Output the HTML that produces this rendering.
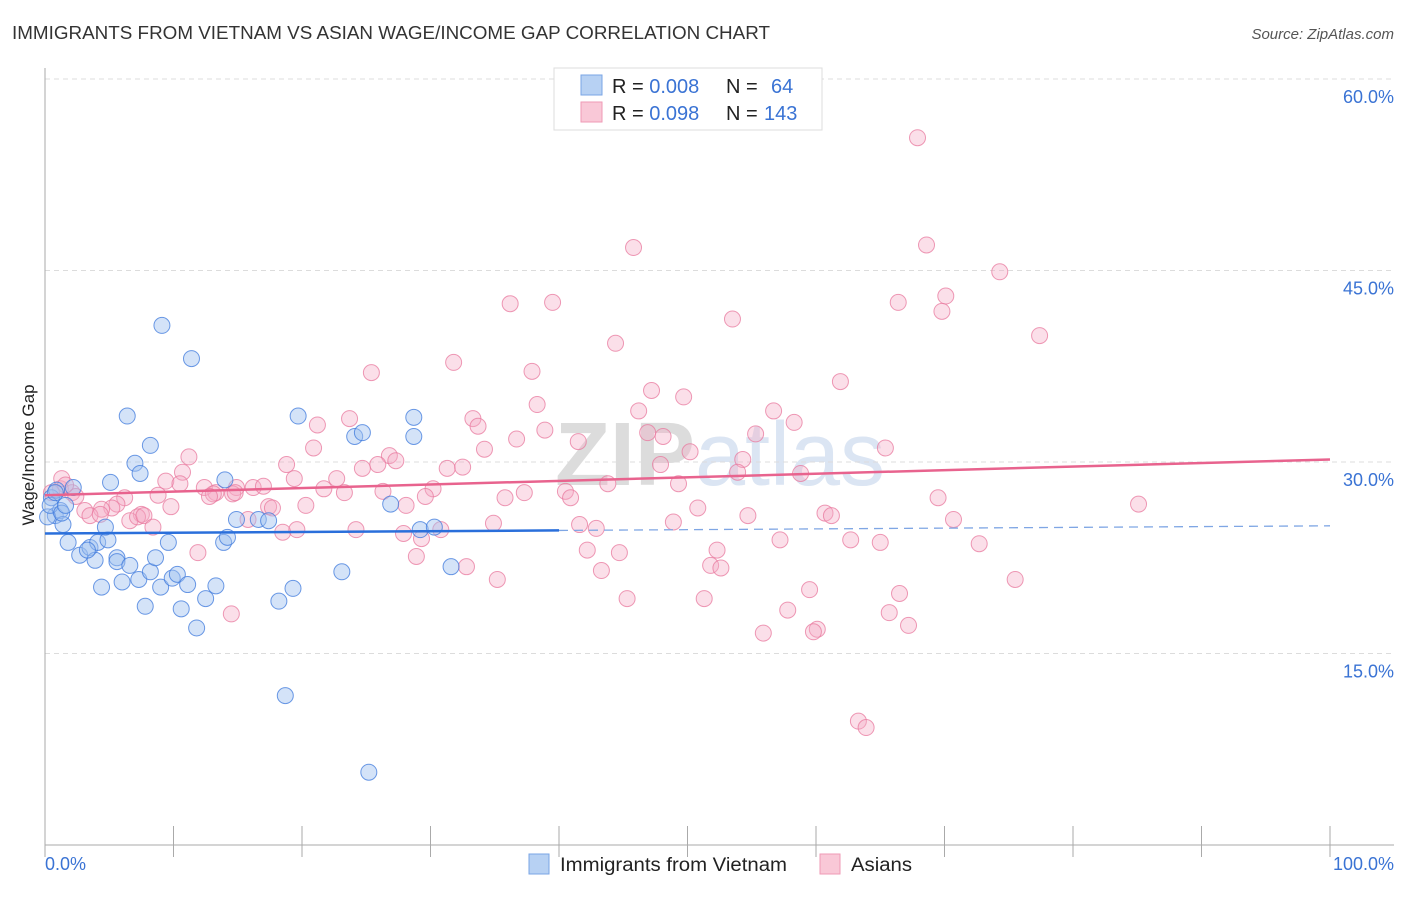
<!DOCTYPE html>
<html><head><meta charset="utf-8"><style>
body{margin:0;background:#fff;font-family:"Liberation Sans",sans-serif;}
svg text{font-family:"Liberation Sans",sans-serif;}
</style></head><body>
<svg id="chart" width="1406" height="892" xmlns="http://www.w3.org/2000/svg">
<text x="12" y="39" font-size="18" fill="#333" textLength="758" lengthAdjust="spacingAndGlyphs">IMMIGRANTS FROM VIETNAM VS ASIAN WAGE/INCOME GAP CORRELATION CHART</text>
<text x="1394" y="39" font-size="15" fill="#555" font-style="italic" text-anchor="end">Source: ZipAtlas.com</text>
<text x="720" y="485" font-size="90" fill="#e6e9ee" text-anchor="middle" font-family="Liberation Serif,serif"><tspan font-weight="bold" fill="#dcdcdc">ZIP</tspan><tspan fill="#dbe5f3">atlas</tspan></text>
<g id="grid"></g>
<g id="axes"></g>
<g id="pts"></g>
<g id="lines"></g>
<text transform="translate(34,455) rotate(-90)" font-size="17" fill="#222" text-anchor="middle">Wage/Income Gap</text>
<text x="45" y="870" font-size="18" fill="#3a73d4">0.0%</text>
<text x="1394" y="870" font-size="18" fill="#3a73d4" text-anchor="end">100.0%</text>
<g>
<rect x="554" y="68" width="268" height="62" fill="#fff" stroke="#ddd"/>
<rect x="581" y="75" width="21" height="20" fill="#b7d1f3" stroke="#7aa5e6"/>
<rect x="581" y="102" width="21" height="20" fill="#f9c8d7" stroke="#ef9ab6"/>
<text x="612" y="93" font-size="20" fill="#222">R = <tspan fill="#3a73d4">0.008</tspan><tspan x="726">N =</tspan><tspan x="771" fill="#3a73d4">64</tspan></text>
<text x="612" y="120" font-size="20" fill="#222">R = <tspan fill="#3a73d4">0.098</tspan><tspan x="726">N =</tspan><tspan x="764" fill="#3a73d4">143</tspan></text>
</g>
<g>
<rect x="529" y="854" width="20" height="20" fill="#b7d1f3" stroke="#7aa5e6"/>
<text x="560" y="871" font-size="19" fill="#222" textLength="227" lengthAdjust="spacingAndGlyphs">Immigrants from Vietnam</text>
<rect x="820" y="854" width="20" height="20" fill="#f9c8d7" stroke="#ef9ab6"/>
<text x="851" y="871" font-size="19" fill="#222" textLength="61" lengthAdjust="spacingAndGlyphs">Asians</text>
</g>
</svg>
<script>
const yTicks=[15,30,45,60];
const yTickLabels=["15.0%","30.0%","45.0%","60.0%"];
const xTicks=[0,10,20,30,40,50,60,70,80,90,100];
const blueX=[0.5,0.8,1.2,0.9,2.2,1.4,1.8,2.7,3.5,3.9,4.1,4.9,4.7,5.1,4.4,5.6,5.6,6.0,6.4,6.6,7.0,7.4,7.3,7.8,8.2,8.2,8.6,9.0,9.1,9.6,9.9,10.3,10.6,11.1,11.4,11.8,12.5,13.3,13.9,14.2,14.0,14.9,16.6,17.4,18.2,18.7,19.3,19.7,23.1,24.1,24.7,25.2,26.9,28.7,28.7,29.2,30.3,31.6,0.2,0.4,1.3,3.3,0.8,1.6];
const blueY=[27.2,25.8,26.2,27.8,28.0,25.1,23.7,22.7,23.3,22.3,23.7,23.9,24.9,28.4,20.2,22.5,22.2,20.6,33.6,21.9,29.9,29.1,20.8,18.7,31.3,21.4,22.5,20.2,40.7,23.7,20.9,21.2,18.5,20.4,38.1,17.0,19.3,20.3,23.7,24.1,28.6,25.5,25.5,25.4,19.1,11.7,20.1,33.6,21.4,32.0,32.3,5.7,26.7,33.5,32.0,24.7,24.9,21.8,25.7,26.6,26.0,23.1,27.6,26.6];
const pinkX=[67.9,45.8,68.6,74.3,70.1,69.8,66.4,36.2,39.5,53.5,77.4,44.4,31.8,25.4,37.9,61.9,47.2,49.7,38.3,46.2,56.7,23.7,33.3,33.7,21.2,58.3,38.9,46.9,48.1,55.3,36.7,20.9,34.2,65.4,41.5,50.2,11.2,26.8,27.3,25.9,54.3,18.8,24.7,31.3,32.5,47.9,10.7,53.9,58.8,19.4,22.7,9.4,10.5,43.8,49.3,12.4,14.9,16.2,17.0,21.7,13.3,13.1,14.6,12.8,14.8,8.8,23.3,26.3,30.2,29.6,37.3,35.8,40.5,40.9,69.5,1.2,2.1,2.4,6.2,5.6,5.2,4.4,3.1,3.5,4.3,7.5,9.8,17.4,17.7,20.3,28.1,50.8,0.5,85.1,60.7,61.2,54.7,6.6,7.2,7.7,8.4,15.8,34.9,48.9,70.7,24.2,27.9,41.6,42.9,18.5,19.6,30.8,29.3,57.2,62.7,65.0,72.7,11.9,42.2,44.7,52.3,28.9,51.8,52.6,32.8,43.3,35.2,75.5,59.5,66.5,45.3,51.3,57.8,65.7,14.5,67.2,60.1,59.8,55.9,63.3,63.9,1.3,1.6];
const pinkY=[55.4,46.8,47.0,44.9,43.0,41.8,42.5,42.4,42.5,41.2,39.9,39.3,37.8,37.0,37.1,36.3,35.6,35.1,34.5,34.0,34.0,33.4,33.4,32.8,32.9,33.1,32.5,32.3,32.0,32.2,31.8,31.1,31.0,31.1,31.6,30.8,30.4,30.5,30.1,29.8,30.2,29.8,29.5,29.5,29.6,29.8,29.2,29.2,29.1,28.7,28.7,28.5,28.3,28.3,28.3,28.0,28.0,28.0,28.1,27.9,27.6,27.5,27.5,27.3,27.6,27.4,27.6,27.7,27.9,27.3,27.6,27.2,27.7,27.2,27.2,27.9,27.6,27.3,27.2,26.7,26.4,26.3,26.2,25.8,25.9,25.9,26.5,26.5,26.4,26.6,26.6,26.4,27.6,26.7,26.0,25.8,25.8,25.4,25.7,25.8,24.9,25.5,25.2,25.3,25.5,24.7,24.4,25.1,24.8,24.5,24.7,24.7,24.0,23.9,23.9,23.7,23.6,22.9,23.1,22.9,23.1,22.6,21.9,21.7,21.8,21.5,20.8,20.8,20.0,19.7,19.3,19.3,18.4,18.2,18.1,17.2,16.9,16.7,16.6,9.7,9.2,28.7,28.2];
const blueTrend=[24.4,25.0];
const pinkTrend=[27.4,30.2];
const blueSolidEnd=40;

const X0=45,X1=1330,Y0=845,YTOP=79;
const sx=v=>X0+(X1-X0)*v/100;
const sy=v=>Y0-(Y0-YTOP)*v/60;
const NS="http://www.w3.org/2000/svg";
function mk(tag,attrs,parent){const e=document.createElementNS(NS,tag);for(const k in attrs)e.setAttribute(k,attrs[k]);parent.appendChild(e);return e;}
const grid=document.getElementById('grid'),axes=document.getElementById('axes'),pts=document.getElementById('pts'),lines=document.getElementById('lines');
yTicks.forEach((t,i)=>{
 const l=mk('line',{x1:X0,x2:1394,y1:sy(t),y2:sy(t),stroke:'#dcdcdc','stroke-dasharray':'5,4'},grid);
 
 
 const tx=mk('text',{x:1394,y:sy(t)+24,'font-size':18,fill:'#3a73d4','text-anchor':'end'},grid);
 tx.textContent=yTickLabels[i];
 
 
});
const ya=mk('line',{x1:X0,x2:X0,y1:68,y2:Y0,stroke:'#aaa'},axes);


const xa=mk('line',{x1:X0,x2:1394,y1:Y0,y2:Y0,stroke:'#aaa'},axes);


xTicks.forEach(t=>{
 const l=mk('line',{x1:sx(t),x2:sx(t),y1:826,y2:Y0+12,stroke:'#aaa'},axes);
 
 
});
function dots(xs,ys,fill,stroke,name){
 xs.forEach((x,i)=>{
  const c=mk('circle',{cx:sx(x),cy:sy(ys[i]),r:8,fill:fill,stroke:stroke,'stroke-width':1},pts);
  
  
 });
}
dots(pinkX,pinkY,'rgba(245,170,196,0.38)','rgba(232,120,158,0.75)','asians-point');
dots(blueX,blueY,'rgba(160,194,240,0.45)','rgba(60,120,220,0.75)','vietnam-point');
const ty=(tr,x)=>tr[0]+(tr[1]-tr[0])*x/100;
let l1=mk('line',{x1:sx(0),y1:sy(ty(blueTrend,0)),x2:sx(blueSolidEnd),y2:sy(ty(blueTrend,blueSolidEnd)),stroke:'#2a6fdb','stroke-width':2.5},lines);


let l2=mk('line',{x1:sx(blueSolidEnd),y1:sy(ty(blueTrend,blueSolidEnd)),x2:sx(100),y2:sy(ty(blueTrend,100)),stroke:'#7fa6e4','stroke-width':1.3,'stroke-dasharray':'9,6'},lines);


let l3=mk('line',{x1:sx(0),y1:sy(ty(pinkTrend,0)),x2:sx(100),y2:sy(ty(pinkTrend,100)),stroke:'#e8638e','stroke-width':2.5},lines);


</script>
</body></html>
